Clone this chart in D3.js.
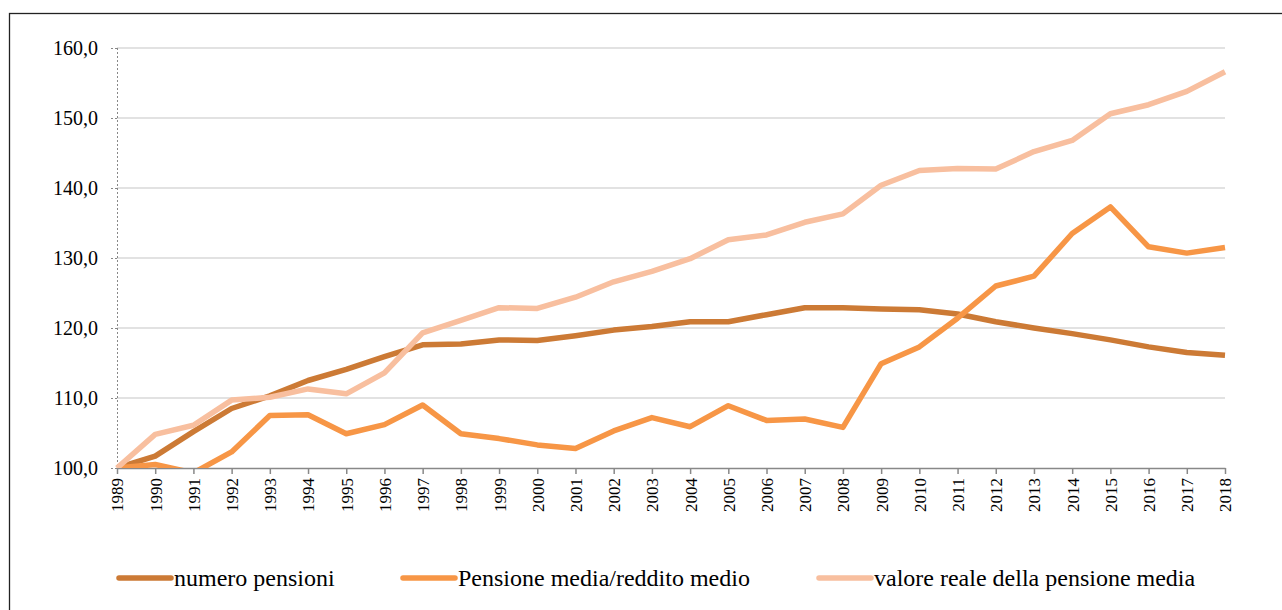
<!DOCTYPE html>
<html>
<head>
<meta charset="utf-8">
<script src="https://cdn.jsdelivr.net/npm/d3@7"></script>
<style>
  body { margin: 0; background: #fff; }
  svg { display: block; }
  svg text { font-family: 'Liberation Serif', 'Times New Roman', 'DejaVu Serif', serif; }
</style>
</head>
<body>
<div id="container"></div>
<script>
// anni e serie
const years = [1989,1990,1991,1992,1993,1994,1995,1996,1997,1998,1999,2000,2001,2002,2003,2004,2005,2006,2007,2008,2009,2010,2011,2012,2013,2014,2015,2016,2017,2018];
const numeroPensioni = [100,101.7,105.2,108.5,110.3,112.5,114.1,115.9,117.6,117.7,118.3,118.2,118.9,119.7,120.2,120.9,120.9,121.9,122.9,122.9,122.7,122.6,122.0,120.9,120.0,119.2,118.3,117.3,116.5,116.1];
const pensioneReddito = [100,100.5,99.3,102.3,107.5,107.6,104.9,106.2,109.0,104.9,104.2,103.3,102.8,105.3,107.2,105.9,108.9,106.8,107.0,105.8,114.9,117.3,121.4,126.0,127.4,133.5,137.3,131.6,130.7,131.5];
const valoreReale = [100,104.8,106.1,109.7,110.1,111.3,110.6,113.6,119.3,121.1,122.9,122.8,124.4,126.6,128.1,129.9,132.6,133.3,135.1,136.3,140.4,142.5,142.8,142.7,145.2,146.8,150.6,151.9,153.8,156.6];
const yTicks = [100,110,120,130,140,150,160];
const seriesNames = ["numero pensioni","Pensione media/reddito medio","valore reale della pensione media"];
const seriesColors = ["#cc7a35","#f79646","#f8bf9f"];

const w = 1282, h = 610;
const plotLeft = 117, plotRight = 1225, plotTop = 48, plotBottom = 468;
const serif = "'Liberation Serif', 'Times New Roman', 'DejaVu Serif', serif";

const xScale = d3.scaleLinear().domain([d3.min(years), d3.max(years)]).range([plotLeft, plotRight]);
const yScale = d3.scaleLinear().domain([100, 160]).range([plotBottom, plotTop]);

const svg = d3.select("#container").append("svg")
  .attr("width", w).attr("height", h);

// cornice
svg.append("rect")
  .attr("x", 9.5).attr("y", 13.5)
  .attr("width", w + 20).attr("height", h + 20)
  .attr("fill", "none").attr("stroke", "#222").attr("stroke-width", 1.3);

// griglia
svg.append("g").selectAll("line")
  .data(yTicks.filter(d => d > 100))
  .enter().append("line")
  .attr("x1", plotLeft).attr("x2", plotRight)
  .attr("y1", d => yScale(d)).attr("y2", d => yScale(d))
  .attr("stroke", "#d9d9d9").attr("stroke-width", 1.5);

// asse y
const yAxis = d3.axisLeft(yScale).tickValues(yTicks)
  .tickFormat(d => d3.format(".1f")(d).replace(".", ","))
  .tickSize(7).tickPadding(12);
const gy = svg.append("g").attr("transform", "translate(" + plotLeft + ",0)").call(yAxis);
gy.attr("font-family", null);
gy.select(".domain").attr("stroke", "#888").attr("stroke-dasharray", "2,2").attr("d", "M0.5," + plotTop + "V" + plotBottom);
gy.selectAll(".tick line").attr("stroke", "#888").attr("stroke-dasharray", "2,2");
gy.selectAll(".tick text").style("font-size", "20px").style("font-family", serif).attr("fill", "#000");

// asse x
const xAxis = d3.axisBottom(xScale).tickValues(years).tickFormat(d => d).tickSize(6).tickSizeOuter(0);
const gx = svg.append("g").attr("transform", "translate(0," + plotBottom + ")").call(xAxis);
gx.attr("font-family", null);
gx.select(".domain").attr("stroke", "#888").attr("stroke-width", 1.5);
gx.selectAll(".tick line").attr("stroke", "#888").attr("stroke-width", 1.5);
gx.selectAll(".tick text")
  .style("font-size", "17px").style("font-family", serif).attr("fill", "#000")
  .attr("transform", "rotate(-90)")
  .attr("text-anchor", "end")
  .attr("x", -10).attr("y", 0).attr("dy", "0.35em");

// linee
svg.append("clipPath").attr("id", "plot")
  .append("rect").attr("x", 0).attr("y", 0).attr("width", w).attr("height", plotBottom);

const line = d3.line().x((d, i) => xScale(years[i])).y(d => yScale(d));
const allSeries = [numeroPensioni, pensioneReddito, valoreReale];

svg.append("g").attr("clip-path", "url(#plot)")
  .selectAll("path").data(allSeries).enter().append("path")
  .attr("d", line)
  .attr("fill", "none")
  .attr("stroke", (d, i) => seriesColors[i])
  .attr("stroke-width", 5.5)
  .attr("stroke-linejoin", "round");

// legenda
const legendX = [117, 401, 817];
const lg = svg.append("g").selectAll("g").data(seriesNames).enter().append("g")
  .attr("transform", (d, i) => "translate(" + legendX[i] + ",578)");
lg.append("line").attr("x1", 2).attr("x2", 54)
  .attr("stroke", (d, i) => seriesColors[i]).attr("stroke-width", 5.5).attr("stroke-linecap", "round");
lg.append("text").attr("x", 57).attr("dy", "0.35em")
  .style("font-size", "24px").style("font-family", serif).attr("fill", "#000").text(d => d);
</script>
</body>
</html>
